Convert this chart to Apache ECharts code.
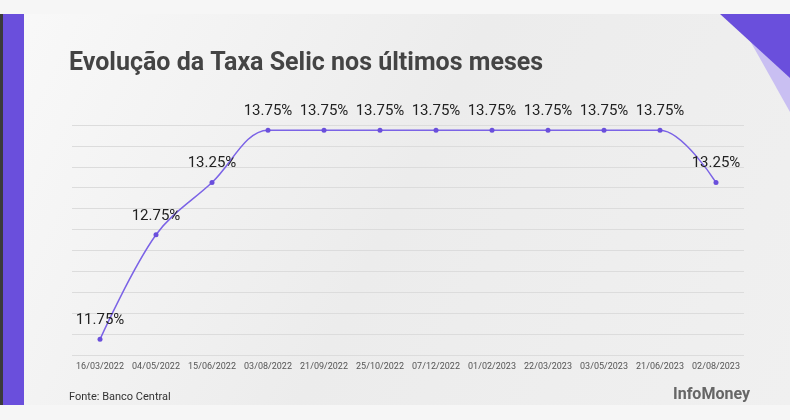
<!DOCTYPE html>
<html><head><meta charset="utf-8">
<script src="https://cdn.jsdelivr.net/npm/echarts@6/dist/echarts.min.js"></script>
<style>html,body{margin:0;padding:0;background:#f6f6f6}#c{width:790px;height:420px}</style>
</head><body><div id="c"></div>
<script>
// datas das reuniões do Copom
const datas = ['16/03/2022','04/05/2022','15/06/2022','03/08/2022','21/09/2022','25/10/2022',
  '07/12/2022','01/02/2023','22/03/2023','03/05/2023','21/06/2023','02/08/2023'];
const selic = [11.75, 12.75, 13.25, 13.75, 13.75, 13.75, 13.75, 13.75, 13.75, 13.75, 13.75, 13.25];

const chart = echarts.init(document.getElementById('c'));
chart.setOption({
  backgroundColor: '#f6f6f6',
  animation: false,
  textStyle: {fontFamily: 'Roboto'},
  graphic: [
    {type: 'rect', shape: {x: 0, y: 14, width: 790, height: 391}, z: -10,
      style: {fill: new echarts.graphic.LinearGradient(0, 0, 1, 1, [
        {offset: 0, color: '#f9f9f9'}, {offset: 0.5, color: '#ececec'}, {offset: 1, color: '#f0f0f0'}])}},
    {type: 'rect', shape: {x: 0, y: 14, width: 3, height: 391}, style: {fill: '#3a3a3a'}, z: -5},
    {type: 'rect', shape: {x: 3, y: 14, width: 21, height: 391}, style: {fill: '#6a4fdc'}, z: -5},
    {type: 'polygon', shape: {points: [[735, 14], [790, 14], [790, 112]]}, style: {fill: '#c9bff2'}, z: -5},
    {type: 'polygon', shape: {points: [[720, 14], [790, 14], [790, 78]]}, style: {fill: '#6a4fdc'}, z: -4},
    {type: 'text', left: 69, top: 51, z: 5,
      style: {text: 'Evolução da Taxa Selic nos últimos meses', fill: '#444', font: 'bold 25px Roboto'}},
    {type: 'text', left: 69, top: 392, z: 5,
      style: {text: 'Fonte: Banco Central', fill: '#333', font: '11px Roboto'}},
    {type: 'text', right: 40, top: 387, z: 5,
      style: {text: 'InfoMoney', fill: '#666', font: 'bold 16px Roboto'}}
  ],
  grid: {left: 72, right: 46, top: 125, bottom: 65},
  xAxis: {
    type: 'category', data: datas, boundaryGap: true,
    axisLine: {show: false}, axisTick: {show: false},
    axisLabel: {color: '#555', fontSize: 9, margin: 7, interval: 0}
  },
  yAxis: {
    type: 'value', min: 11.6, max: 13.8, interval: 0.2,
    axisLabel: {show: false},
    splitLine: {lineStyle: {color: '#dcdcdc', width: 1}}
  },
  series: [{
    type: 'line', data: selic, smooth: 0.35,
    symbol: 'circle', symbolSize: 5,
    lineStyle: {color: '#7b63e6', width: 1.5},
    itemStyle: {color: '#6a4fdc'},
    label: {show: true, position: 'top', distance: 9, color: '#222', fontSize: 15,
      formatter: p => p.value.toFixed(2) + '%'}
  }]
});
</script></body></html>
